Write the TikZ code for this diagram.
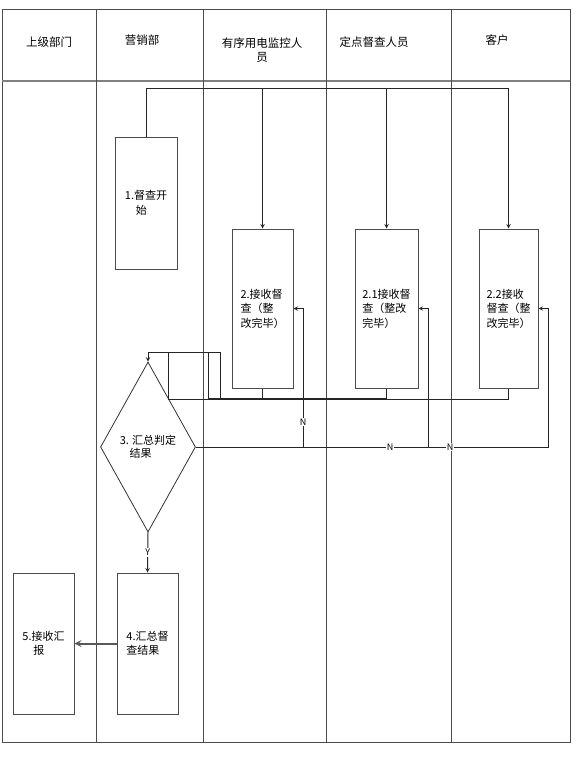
\documentclass[tikz,border=0pt]{standalone}
\usepackage{fontspec}
\setmainfont{Noto Sans CJK SC}
\usetikzlibrary{arrows,shapes.geometric}

\begin{document}
\begin{tikzpicture}[>=stealth, x=1pt, y=-1pt, node distance=104pt]
		\tikzstyle{box} = [draw=black!70, line width=1pt, minimum width=61pt, minimum height=159pt, inner sep=0pt, align=left, font=\fontsize{11}{14.5}\selectfont]
		\tikzstyle{judge} = [draw=black!80, diamond, line width=0.8pt, minimum width=95pt, minimum height=170pt, inner sep=0pt, align=left, font=\fontsize{11}{13}\selectfont]
		\tikzstyle{head} = [align=center, font=\fontsize{11.5}{14}\selectfont]
		\tikzstyle{lane} = [draw=black!70, line width=1pt]
		\tikzstyle{line} = [draw=black!85, line width=1pt]
		\tikzstyle{tag} = [fill=white, inner sep=1pt, font=\fontsize{9}{9}\selectfont]

		\useasboundingbox (0,0) rectangle (579,765);

		% lanes
		\draw[lane] (2,10) rectangle (570,742);
		\draw[lane, black!50, line width=2pt] (2,81) -- (570,81);
		\foreach \x in {96,203,326,451}
			\draw[lane] (\x,10) -- (\x,742);

		\node[head] (h1) at (49,42) {上级部门};
		\node[head] (h2) at (142,40) {营销部};
		\node[head] (h3) at (262,50) {有序用电监控人\\员};
		\node[head] (h4) at (374,42) {定点督查人员};
		\node[head] (h5) at (497,40) {客户};

		% steps
		\path
		node[box, minimum width=62pt, minimum height=132pt] (s1) at (146,203) {1.督查开\\\hspace{1em}始}
		node[box] (s2) at (262.5,308.5) {2.接收督\\查（整\\改完毕）}
		node[box, minimum width=63pt, node distance=124pt, right of=s2] (s21) {2.1接收督\\查（整改\\完毕）}
		node[box, minimum width=59pt, node distance=122pt, right of=s21] (s22) {2.2接收\\督查（整\\改完毕）}
		node[judge] (s3) at (148,447) {3. 汇总判定\\\hspace{0.9em}结果}
		node[box, minimum height=141pt] (s4) at (147.5,643.5) {4.汇总督\\查结果}
		node[box, minimum height=141pt, left of=s4] (s5) {5.接收汇\\\hspace{1em}报}
		;

		% start -> receivers
		\coordinate (t) at (0,89);
		\draw[line, ->] (s1.north) -- (s1.north |- t) -| (s22.north);
		\draw[line, ->] (s2.north |- t) -- (s2.north);
		\draw[line, ->] (s21.north |- t) -- (s21.north);

		% back to judge
		\coordinate (j) at (148,352);
		\draw[line] (s2.south) -- ++(0,10) -| ([xshift=72pt]j) -- (j);
		\draw[line] (s21.south) -- ++(0,10) -| ([xshift=60pt]j) -- (j);
		\draw[line] (s22.south) -- ++(0,10.5) -| ([xshift=20pt]j) -- (j);
		\draw[line, ->] (j) -- (s3.north);

		% N loops
		\coordinate (r2) at (303,447);
		\coordinate (r21) at (428,447);
		\draw[line, ->] (s3.east) -| ([xshift=10pt]s22.east) -- (s22.east);
		\draw[line, ->] (r2) |- (s2.east);
		\draw[line, ->] (r21) |- (s21.east);
		\node[tag] (n1) at (303,422) {N};
		\node[tag] (n2) at (390,447) {N};
		\node[tag] (n3) at (450,447) {N};

		% Y and report
		\draw[line, ->] (s3.south) -- node[tag] (y) {Y} (s4.north);
		\draw[line, ->, line width=2pt, black!65] (s4.west) -- (s5.east);

		\end{tikzpicture}
\end{document}
